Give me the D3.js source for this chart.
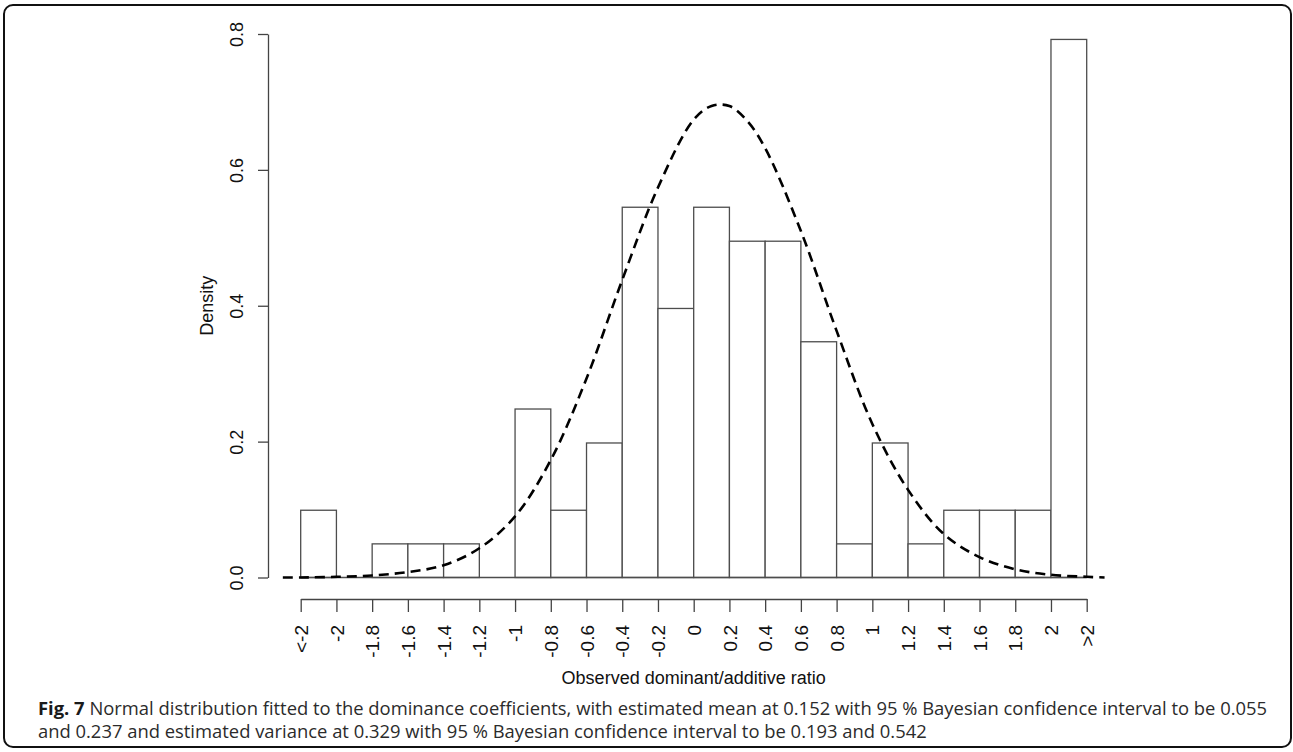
<!DOCTYPE html>
<html>
<head>
<meta charset="utf-8">
<script src="https://cdn.jsdelivr.net/npm/d3@7"></script>
<style>
  html, body { margin: 0; padding: 0; background: #fff; }
  svg { display: block; }
</style>
</head>
<body>
<svg id="chart" width="1293" height="752"></svg>
<script>
// ---- data ----
const tickValues = [-2.2, -2.0, -1.8, -1.6, -1.4, -1.2, -1.0, -0.8, -0.6, -0.4, -0.2, 0.0, 0.2, 0.4, 0.6, 0.8, 1.0, 1.2, 1.4, 1.6, 1.8, 2.0, 2.2];
const tickLabels = ["<-2", "-2", "-1.8", "-1.6", "-1.4", "-1.2", "-1", "-0.8", "-0.6", "-0.4", "-0.2", "0", "0.2", "0.4", "0.6", "0.8", "1", "1.2", "1.4", "1.6", "1.8", "2", ">2"];
// histogram densities, one per bin between consecutive ticks
const densities = [0.099, 0, 0.0495, 0.0495, 0.0495, 0, 0.248, 0.099, 0.198, 0.545, 0.396, 0.545, 0.495, 0.495, 0.347, 0.0495, 0.198, 0.0495, 0.099, 0.099, 0.099, 0.792];
// fitted normal curve
const curveX = [-2.3, -2.2, -2.0, -1.8, -1.6, -1.4, -1.2, -1.0, -0.8, -0.6, -0.4, -0.2, 0.0, 0.1, 0.2, 0.3, 0.4, 0.6, 0.8, 1.0, 1.2, 1.4, 1.6, 1.8, 2.0, 2.2, 2.3];
const curveY = [0.000, 0.000, 0.001, 0.003, 0.008, 0.018, 0.043, 0.090, 0.173, 0.293, 0.438, 0.574, 0.674, 0.694, 0.694, 0.672, 0.632, 0.510, 0.363, 0.226, 0.129, 0.064, 0.030, 0.012, 0.004, 0.001, 0.000];
const yTicks = [0, 0.2, 0.4, 0.6, 0.8];
const xTitle = "Observed dominant/additive ratio";
const yTitle = "Density";
const captionBold = "Fig. 7";
const captionLine1 = " Normal distribution fitted to the dominance coefficients, with estimated mean at 0.152 with 95 % Bayesian confidence interval to be 0.055";
const captionLine2 = "and 0.237 and estimated variance at 0.329 with 95 % Bayesian confidence interval to be 0.193 and 0.542";

// ---- drawing ----
const svg = d3.select("#chart");
const font = "'Liberation Sans', Arial, Helvetica, sans-serif";

// frame
svg.append("rect")
  .attr("x", 4).attr("y", 5).attr("width", 1287).attr("height", 742)
  .attr("rx", 9).attr("ry", 9)
  .attr("fill", "none").attr("stroke", "#111").attr("stroke-width", 2);

const x = d3.scaleLinear().domain([-2.2, 2.2]).range([300.7, 1086.7]);
const y = d3.scaleLinear().domain([0, 0.8]).range([577.5, 34]);

// bars
const bins = densities.map((d, i) => ({ x0: tickValues[i], x1: tickValues[i + 1], d }));
svg.append("g").selectAll("rect").data(bins).join("rect")
  .attr("x", b => x(b.x0))
  .attr("y", b => y(b.d))
  .attr("width", b => x(b.x1) - x(b.x0))
  .attr("height", b => y(0) - y(b.d))
  .attr("fill", "#fff")
  .attr("stroke", "#4d4d4d")
  .attr("stroke-width", 1.3);
// baseline of the bars (zero-height bins)
svg.append("line")
  .attr("x1", x(-2.2)).attr("x2", x(2.2))
  .attr("y1", y(0)).attr("y2", y(0))
  .attr("stroke", "#4d4d4d").attr("stroke-width", 1.3);

// normal curve
const pts = curveX.map((v, i) => [v, curveY[i]]);
svg.append("path")
  .datum(pts)
  .attr("d", d3.line().x(p => x(p[0])).y(p => y(p[1])).curve(d3.curveCatmullRom.alpha(0.5)))
  .attr("fill", "none")
  .attr("stroke", "#000")
  .attr("stroke-width", 2.6)
  .attr("stroke-dasharray", "10,6");

// x axis
const gx = svg.append("g")
  .attr("transform", "translate(0,599)")
  .call(d3.axisBottom(x).tickValues(tickValues).tickFormat((d, i) => tickLabels[i]).tickSize(13).tickSizeOuter(0));
gx.select(".domain").attr("stroke", "#444").attr("stroke-width", 1.3);
gx.selectAll(".tick line").attr("stroke", "#444").attr("stroke-width", 1.3);
gx.selectAll(".tick text")
  .attr("font-family", font).attr("font-size", 19).attr("fill", "#111")
  .attr("text-anchor", "end")
  .attr("transform", "rotate(-90)")
  .attr("x", -26).attr("y", 0).attr("dy", "0.35em");

// y axis
const gy = svg.append("g")
  .attr("transform", "translate(268,0)")
  .call(d3.axisLeft(y).tickValues(yTicks).tickFormat(d3.format(".1f")).tickSize(10).tickSizeOuter(0));
gy.select(".domain").attr("stroke", "#444").attr("stroke-width", 1.3);
gy.selectAll(".tick line").attr("stroke", "#444").attr("stroke-width", 1.3);
gy.selectAll(".tick text")
  .attr("font-family", font).attr("font-size", 18).attr("fill", "#111")
  .attr("text-anchor", "middle")
  .attr("transform", "rotate(-90)")
  .attr("x", 0).attr("y", -25).attr("dy", 0);

// axis titles
svg.append("text")
  .attr("x", (x(-2.2) + x(2.2)) / 2).attr("y", 684)
  .attr("text-anchor", "middle")
  .attr("font-family", font).attr("font-size", 18).attr("fill", "#111")
  .text(xTitle);
svg.append("text")
  .attr("transform", `translate(213,${(y(0) + y(0.8)) / 2}) rotate(-90)`)
  .attr("text-anchor", "middle")
  .attr("font-family", font).attr("font-size", 18).attr("fill", "#111")
  .text(yTitle);

// caption
const capFont = "'Open Sans', 'Noto Sans', sans-serif";
const t1 = svg.append("text")
  .attr("x", 38).attr("y", 715)
  .attr("font-family", capFont).attr("font-size", 18.4).attr("fill", "#2b2b2b");
t1.append("tspan").attr("font-weight", "bold").attr("fill", "#1a1a1a").text(captionBold);
t1.append("tspan").text(captionLine1);
svg.append("text")
  .attr("x", 38).attr("y", 738)
  .attr("font-family", capFont).attr("font-size", 18.4).attr("fill", "#2b2b2b")
  .text(captionLine2);
</script>
</body>
</html>
